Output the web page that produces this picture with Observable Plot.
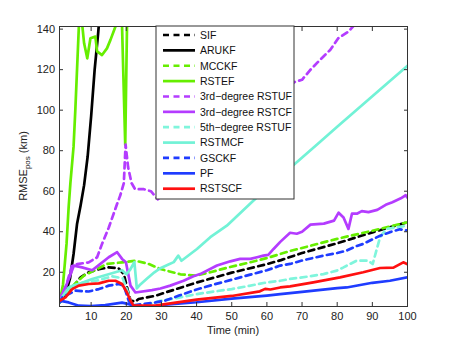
<!DOCTYPE html>
<html>
<head>
<meta charset="utf-8">
<script src="https://cdn.jsdelivr.net/npm/d3@7"></script>
<script src="https://cdn.jsdelivr.net/npm/@observablehq/plot@0.6"></script>
<style>
  html, body { margin: 0; padding: 0; background: white; }
</style>
</head>
<body>
<div id="chart"></div>
<script>
// ---- data (time in min, RMSE_pos in km) ----
const SIF = [[1,5],[4,11],[7,17.5],[9.3,20],[12.2,21.5],[15,22.4],[17.8,22],[19.3,19.1],[20.2,12.5],[21.2,6],[22.6,5.5],[23.5,6.8],[28.3,8.4],[31.1,10],[40,14.9],[50,19.8],[60,24],[64,26],[70,29.5],[80,34.3],[90,39.7],[100,44.7]];
const ARUKF = [[1,5],[2,7],[3,11],[4,17],[5,29],[6,44],[7,53],[8,63],[9,77],[10,97],[11,120],[12,138],[13,160]];
const MCCKF = [[1,5],[4,12],[7.9,18.3],[11,21],[14.5,24.1],[18.8,24.9],[22.6,25.7],[26.4,24.1],[29.7,21.6],[35.4,19],[39.7,18.3],[43.9,20],[48.6,22.2],[54.3,24.5],[60,27],[66.6,30.5],[70,32],[80,36.5],[90,40.5],[100,44.7]];
const RSTEF = [[1,5],[2,14],[3,34],[3.6,52],[4.1,64],[5,82],[5.5,100],[6.5,141],[7,150],[8,133],[8.9,125.6],[9.8,135.5],[11.2,136.3],[11.7,129],[13.1,127.2],[14.5,130.5],[15.5,134.7],[16.9,141.2],[17.5,150],[18.5,155],[18.8,141],[19.7,83],[20.2,141],[21,170]];
const RSTUF3 = [[1,6],[3,14],[4.5,23],[6,24],[9.3,24.9],[11.7,27.4],[13.1,34],[15,42],[17.4,53.8],[18.3,58],[19.3,64],[19.8,83],[20.5,72],[21.5,64],[22.5,61],[25,61],[27,60],[29,56],[35,70],[45,88],[55,100],[62,107],[68,114],[70,115],[72.3,119.8],[75.1,124.8],[78,129.7],[80.3,135.5],[83.2,138.8],[84.6,141.5],[86,144]];
const RSTCF3 = [[1,6.8],[2.7,12.5],[5.1,23.3],[7.4,22.4],[10.3,21],[12,23.3],[15,27.4],[17.4,29.9],[18.8,26.6],[19.9,24.9],[21.2,13.4],[22.6,10],[27.3,11.2],[29.7,12],[32.5,13.4],[36.3,15.8],[39.1,18],[41,19.1],[45.8,23.3],[49.6,25.4],[52.4,26.6],[55.3,26.6],[57.2,27.4],[59,28.2],[60.4,28.6],[61.9,31.5],[63.8,35],[66.6,39.5],[68.5,39],[70,40],[72.4,43.5],[76.2,44],[79.1,45.5],[80.4,49.4],[81.8,47],[83.2,41.4],[84.2,48.9],[85.6,48.9],[87,50.2],[88.9,49.7],[91.4,50.8],[93.8,53.3],[95.7,54.6],[98.1,56.5],[99.5,58],[100,56.8]];
const RSTUF5 = [[1,5],[4,13],[8,15],[12,16],[16,18],[19,17],[20.5,10],[21.5,4],[25,3.5],[28,5],[30,6],[35,7.5],[40,9.2],[45,10.5],[50,11.7],[55,13.3],[60,15],[63.8,15.8],[66.6,16.7],[71.4,17.8],[76.1,19.1],[79.9,20.8],[81.8,22.4],[83,23.5],[85.5,25.7],[88.8,25.7],[90.1,24.1],[92.2,37.3],[94,41.4],[100,43]];
const RSTMCF = [[1,5.9],[3.6,12.5],[6.5,14.2],[10.3,16.7],[13.5,18.3],[16.9,20],[18.8,21],[20,19],[21,21],[22.3,25],[23,12],[24,14],[26,17],[28,20],[29.7,22],[32,23.8],[33.5,25],[34.8,28.2],[35.7,25.7],[40.1,31.5],[43.9,37.3],[48.6,43],[56.2,55.4],[62,64.5],[68,73.6],[75,84.2],[80,91.8],[85,99.3],[90,106.9],[95,114.4],[100,121.9]];
const GSCKF = [[1,5],[1.8,7.6],[5.5,10.9],[9.3,10.5],[12.2,11.7],[15,13.4],[17.8,14.2],[19.3,13.4],[20.7,5.9],[21.6,3.5],[24.5,4.3],[28.3,5.1],[31.1,6],[35,8.5],[40,11.5],[45,14],[50,16.3],[55,18.7],[60,21],[63.8,23.3],[66.6,24.1],[70,25.8],[76.1,28.2],[80,29.5],[82.7,30.7],[85.6,33],[87.4,34],[90.3,36.5],[92.2,38],[95,39.8],[97.8,41.2],[100,40.6]];
const PF = [[1,6],[3.6,5.1],[6.5,3.5],[10,3.3],[14,3.8],[18.8,5],[20.7,4.3],[22.6,3],[28.3,3.3],[31.1,4],[40,5.2],[50,7],[60,8.5],[63.8,9.2],[70,10.3],[80,12.2],[82.7,12.5],[90,14.8],[95,15.8],[100,17.5]];
const RSTSCF = [[1,5.9],[2.7,7.6],[4.6,11.7],[6.5,13.4],[9.3,14.2],[12.2,14.5],[15,15.8],[16.9,15.8],[18.8,14.2],[20.2,10],[21.2,5.9],[22.1,3.5],[28.3,3.5],[31.1,4.3],[40,6.5],[50,8.3],[58,10.6],[59.5,11.8],[61,11.5],[63.8,12.5],[66.6,13],[73.2,15],[80.8,17.5],[87.4,20],[92.2,22.1],[96,22.3],[98.8,24.9],[100,24]];

const seriesNames = ["SIF","ARUKF","MCCKF","RSTEF","3rd\u2212degree RSTUF","3rd\u2212degree RSTCF","5th\u2212degree RSTUF","RSTMCF","GSCKF","PF","RSTSCF"];
const seriesData = [SIF, ARUKF, MCCKF, RSTEF, RSTUF3, RSTCF3, RSTUF5, RSTMCF, GSCKF, PF, RSTSCF];
const seriesColors = ["#000000","#000000","#66ee00","#66ee00","#b43cff","#b43cff","#7ff5dc","#72f2d6","#1f3cff","#1f3cff","#ff1010"];
const seriesDashed = [true,false,true,false,true,false,true,false,true,false,false];

const xTicks = [10,20,30,40,50,60,70,80,90,100];
const yTicks = [20,40,60,80,100,120,140];
const xDomain = [1,100];
const yDomain = [3.1,141.3];
const xLabel = "Time (min)";
const yLabelMain = "RMSE", yLabelSub = "pos", yLabelUnit = " (km)";

// ---- chart ----
const W = 450, H = 346;
const mL = 59, mR = 43, mT = 26, mB = 40;
const axisColor = "#333";
const DASH = "6,4.5";
const LW = 2.7;

const lineMarks = seriesData.map((s, i) => Plot.line(s, {
  x: d => d[0], y: d => d[1],
  stroke: seriesColors[i], strokeWidth: LW,
  strokeDasharray: seriesDashed[i] ? DASH : null,
  strokeLinejoin: "round", clip: true
}));

const plot = Plot.plot({
  width: W, height: H,
  marginLeft: mL, marginRight: mR, marginTop: mT, marginBottom: mB,
  style: {fontFamily: "'Liberation Sans', Arial, sans-serif", fontSize: "11px", background: "white", color: axisColor},
  x: {domain: xDomain},
  y: {domain: yDomain},
  marks: [
    ...lineMarks,
    Plot.axisX(xTicks, {anchor: "bottom", tickSize: -4, tickPadding: 10, label: null, stroke: axisColor, fill: "#222"}),
    Plot.axisX(xTicks, {anchor: "top", tickSize: -4, tickFormat: () => "", label: null, stroke: axisColor}),
    Plot.axisY(yTicks, {anchor: "left", tickSize: -4, tickPadding: 8.5, label: null, stroke: axisColor, fill: "#222"}),
    Plot.axisY(yTicks, {anchor: "right", tickSize: -4, tickFormat: () => "", label: null, stroke: axisColor}),
    Plot.frame({stroke: axisColor, strokeWidth: 1})
  ]
});

document.getElementById("chart").appendChild(plot);

const svg = d3.select(plot);

// axis titles
svg.append("text")
  .attr("x", mL + (W - mL - mR) / 2)
  .attr("y", 334)
  .attr("text-anchor", "middle")
  .attr("fill", "#222")
  .style("font-size", "11px")
  .text(xLabel);

const yl = svg.append("text")
  .attr("transform", `translate(27,${mT + (H - mT - mB) / 2}) rotate(-90)`)
  .attr("text-anchor", "middle")
  .attr("fill", "#222")
  .style("font-size", "11px");
yl.append("tspan").text(yLabelMain);
yl.append("tspan").attr("dy", 3).style("font-size", "8px").text(yLabelSub);
yl.append("tspan").attr("dy", -3).text(yLabelUnit);

// legend
const lgX = 156, lgY = 26, lgW = 138, lgH = 173, rowH = 15.37, row0 = 35;
const lg = svg.append("g");
lg.append("rect").attr("x", lgX).attr("y", lgY).attr("width", lgW).attr("height", lgH)
  .attr("fill", "white").attr("stroke", axisColor).attr("stroke-width", 1);
seriesNames.forEach((name, i) => {
  const y = row0 + i * rowH;
  lg.append("line").attr("x1", 163).attr("x2", 195).attr("y1", y).attr("y2", y)
    .attr("stroke", seriesColors[i]).attr("stroke-width", LW)
    .attr("stroke-dasharray", seriesDashed[i] ? DASH : null);
  lg.append("text").attr("x", 200).attr("y", y).attr("dy", "0.36em")
    .attr("text-anchor", "start")
    .attr("fill", "#111").style("font-size", "10.5px").text(name);
});
</script>
</body>
</html>
